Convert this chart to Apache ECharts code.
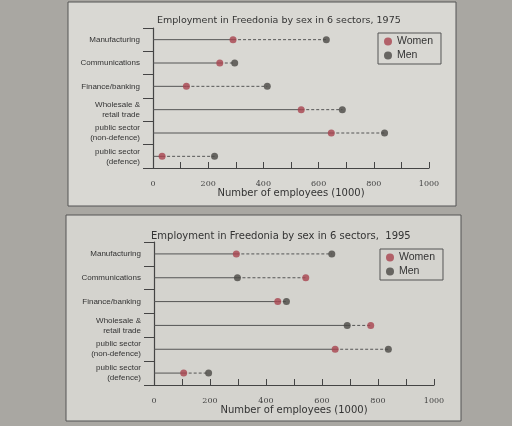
<!DOCTYPE html>
<html><head><meta charset="utf-8">
<script src="https://cdn.jsdelivr.net/npm/echarts@6/dist/echarts.min.js"></script>
<style>html,body{margin:0;padding:0;background:#a9a7a2}#c{width:512px;height:426px}</style>
</head><body><div id="c"></div>
<script>
const categories = ['Manufacturing','Communications','Finance/banking','Wholesale &\nretail trade','public sector\n(non-defence)','public sector\n(defence)'];
const women1975 = [290, 242, 121, 537, 646, 33];
const men1975   = [628, 296, 414, 686, 839, 223];
const women1995 = [294, 542, 442, 774, 647, 106];
const men1995   = [635, 298, 473, 690, 837, 195];
const xTicks = [0, 200, 400, 600, 800, 1000];
const titles = ['Employment in Freedonia by sex in 6 sectors, 1975','Employment in Freedonia by sex in 6 sectors,  1995'];

const grids = [{left:153, top:28, width:276, height:140},{left:154, top:242, width:280, height:143}];
const wc = '#a8434f', mc = '#4a4845';
const chart = echarts.init(document.getElementById('c'));
function lineSeries(i, w, m) {
  return {type:'custom', xAxisIndex:i, yAxisIndex:i, z:1,
    data: categories.map((c,k)=>[k, w[k], m[k]]),
    renderItem:(p, api)=>{
      const k=api.value(0), a=Math.min(api.value(1),api.value(2)), b=Math.max(api.value(1),api.value(2));
      const p0=api.coord([0,k]), p1=api.coord([a,k]), p2=api.coord([b,k]);
      return {type:'group', children:[
        {type:'line', shape:{x1:p0[0],y1:p0[1],x2:p1[0],y2:p1[1]}, style:{stroke:'#555',lineWidth:1}},
        {type:'line', shape:{x1:p1[0],y1:p1[1],x2:p2[0],y2:p2[1]}, style:{stroke:'#555',lineWidth:1,lineDash:[3,2]}}
      ]};
    }};
}
function dots(i, name, vals, col) {
  return {type:'scatter', name, xAxisIndex:i, yAxisIndex:i, z:3, symbolSize:7,
    itemStyle:{color:col}, data: vals.map((v,k)=>[v,k])};
}
const xAx = i => ({gridIndex:i, type:'value', min:0, max:1000, interval:100,
  name:'Number of employees (1000)', nameLocation:'middle', nameGap:18,
  nameTextStyle:{fontSize:10, color:'#333', fontFamily:'DejaVu Sans'},
  axisLine:{show:true, lineStyle:{color:'#444', width:1.2}},
  axisTick:{show:true, inside:true, length:6, lineStyle:{color:'#444'}},
  axisLabel:{fontSize:8, color:'#444', fontFamily:'DejaVu Serif', margin:12,
    formatter:v=> xTicks.includes(v) ? String(v) : ''},
  splitLine:{show:false}});
const yAx = i => ({gridIndex:i, type:'category', data:categories, inverse:true,
  axisLine:{show:true, lineStyle:{color:'#444', width:1.2}},
  axisTick:{show:true, length:10, lineStyle:{color:'#444'}},
  axisLabel:{fontSize:8, color:'#333', lineHeight:10, fontFamily:'Liberation Sans', margin:13}});
chart.setOption({
  animation:false,
  graphic:[
    {type:'rect', shape:{x:68,y:2,width:388,height:204}, style:{fill:'#d9d8d3', stroke:'#555', lineWidth:1}},
    {type:'rect', shape:{x:66,y:215,width:395,height:206}, style:{fill:'#d4d3ce', stroke:'#555', lineWidth:1}}
  ],
  title: titles.map((t,i)=>({text:t, left:i?146:152, top:i?226:11,
    textStyle:{fontSize:i?10:9.5, fontWeight:'normal', color:'#333', fontFamily:'DejaVu Sans'}})),
  legend:[
    {data:['Women','Men'], orient:'vertical', left:378, top:33, itemWidth:8, itemHeight:8, itemGap:3,
     borderColor:'#555', borderWidth:1, padding:[3,8,3,6], textStyle:{fontSize:10.5,color:'#333'}},
    {data:['Women','Men'], orient:'vertical', left:380, top:249, itemWidth:8, itemHeight:8, itemGap:3,
     borderColor:'#555', borderWidth:1, padding:[3,8,3,6], textStyle:{fontSize:10.5,color:'#333'}}
  ],
  grid:grids,
  xAxis:[xAx(0), xAx(1)],
  yAxis:[yAx(0), yAx(1)],
  series:[
    lineSeries(0, women1975, men1975), lineSeries(1, women1995, men1995),
    dots(0,'Women',women1975,wc), dots(0,'Men',men1975,mc),
    dots(1,'Women',women1995,wc), dots(1,'Men',men1995,mc)
  ]
});
</script></body></html>
